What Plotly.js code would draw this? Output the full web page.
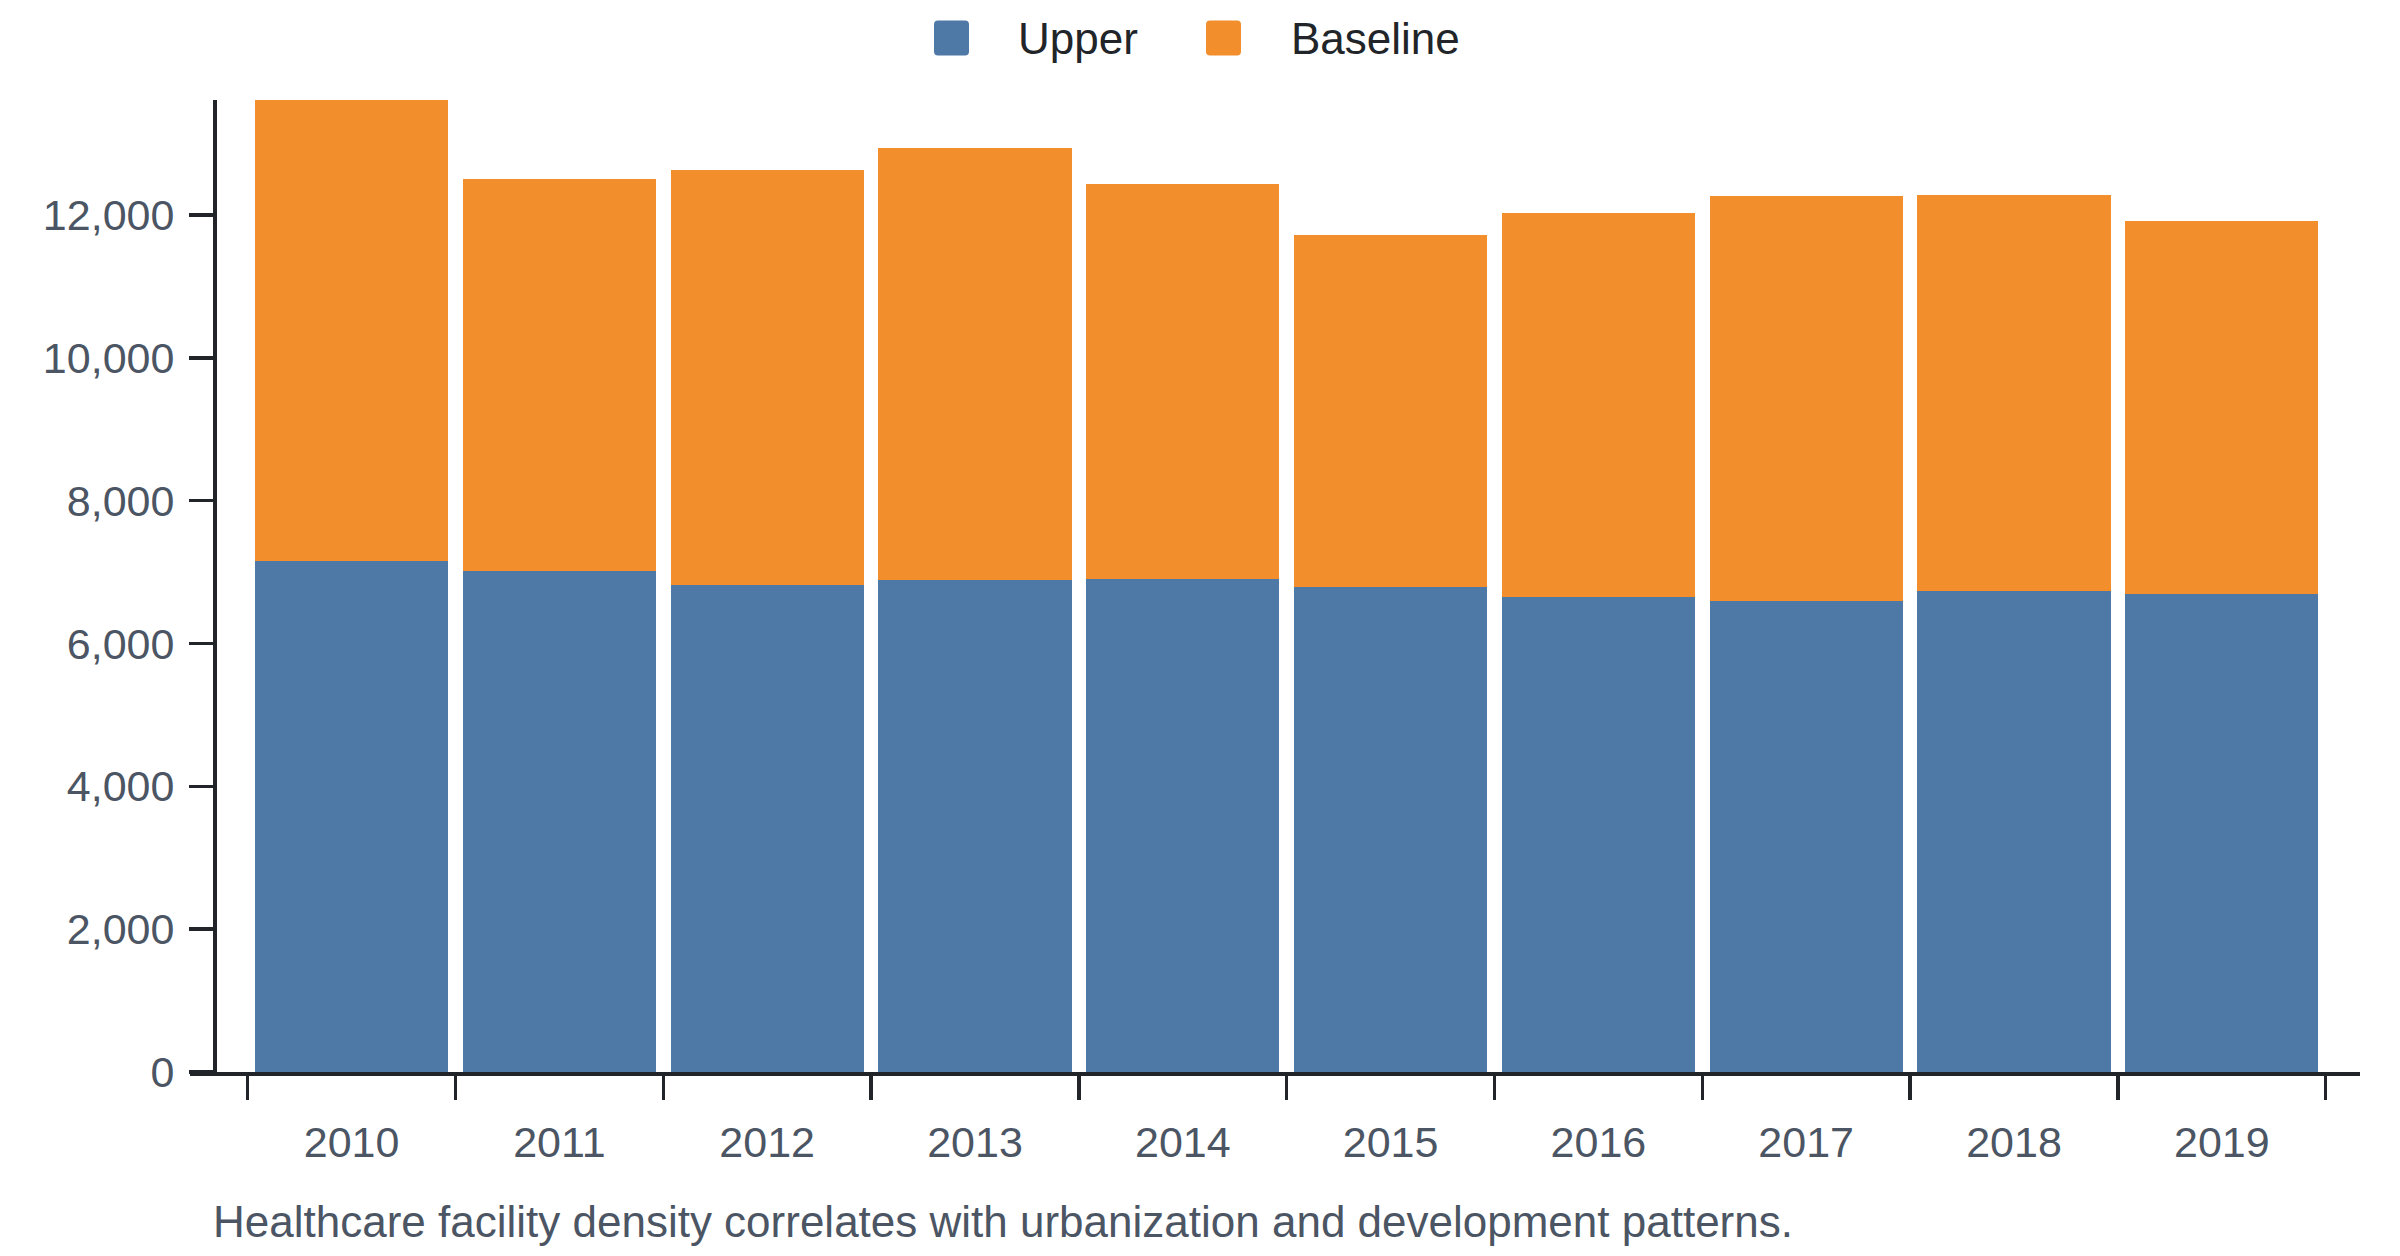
<!DOCTYPE html>
<html>
<head>
<meta charset="utf-8">
<script src="https://cdn.plot.ly/plotly-3.0.1.min.js"></script>
<style>
  html, body { margin: 0; padding: 0; background: #ffffff; }
  #chart { width: 2400px; height: 1256px; }
</style>
</head>
<body>
<div id="chart"></div>
<script>
// ---- data ----
const years = ['2010', '2011', '2012', '2013', '2014', '2015', '2016', '2017', '2018', '2019'];
const upper = [7160, 7010, 6815, 6890, 6910, 6785, 6655, 6590, 6735, 6700];
const baseline = [6450, 5500, 5810, 6045, 5530, 4930, 5370, 5675, 5540, 5220];
const seriesNames = ['Upper', 'Baseline'];
const seriesColors = ['#4e79a7', '#f28e2b'];
const caption = 'Healthcare facility density correlates with urbanization and development patterns.';

// ---- layout geometry (pixels) ----
const W = 2400, H = 1256;
const M = { l: 190, r: 40, t: 100, b: 184 };
const plotW = W - M.l - M.r, plotH = H - M.t - M.b;
const px2x = p => (p - M.l) / plotW;
const py2y = p => (H - M.b - p) / plotH;

const totals = upper.map((u, i) => u + baseline[i]);
const yMax = Math.max.apply(null, totals);

const fontFam = 'Liberation Sans, Arial, Helvetica, sans-serif';
const axisColor = '#212529';
const labelColor = '#4b5563';

const traces = [upper, baseline].map((vals, k) => ({
  type: 'bar',
  name: seriesNames[k],
  x: years,
  y: vals,
  marker: { color: seriesColors[k], line: { width: 0 } },
  showlegend: false,
  hoverinfo: 'x+y+name'
}));

// manual legend (large rounded square swatches)
const legendSquareX = [934, 1206];
const legendTextX = [1016, 1289];
const legendCY = 38, sq = 35, rad = 4;
function roundedSquare(x0p, y0p, s, r) {
  const X = p => px2x(p), Y = p => py2y(p);
  const x1p = x0p + s, y1p = y0p + s;
  return 'M' + X(x0p + r) + ',' + Y(y0p) +
    ' L' + X(x1p - r) + ',' + Y(y0p) +
    ' Q' + X(x1p) + ',' + Y(y0p) + ' ' + X(x1p) + ',' + Y(y0p + r) +
    ' L' + X(x1p) + ',' + Y(y1p - r) +
    ' Q' + X(x1p) + ',' + Y(y1p) + ' ' + X(x1p - r) + ',' + Y(y1p) +
    ' L' + X(x0p + r) + ',' + Y(y1p) +
    ' Q' + X(x0p) + ',' + Y(y1p) + ' ' + X(x0p) + ',' + Y(y1p - r) +
    ' L' + X(x0p) + ',' + Y(y0p + r) +
    ' Q' + X(x0p) + ',' + Y(y0p) + ' ' + X(x0p + r) + ',' + Y(y0p) + ' Z';
}
const shapes = seriesNames.map((n, k) => ({
  type: 'path', xref: 'paper', yref: 'paper',
  path: roundedSquare(legendSquareX[k], legendCY - sq / 2, sq, rad),
  fillcolor: seriesColors[k], line: { width: 0 }
}));
const annotations = seriesNames.map((n, k) => ({
  text: n, xref: 'paper', yref: 'paper',
  x: px2x(legendTextX[k]), y: py2y(legendCY), xanchor: 'left', yanchor: 'middle',
  showarrow: false, font: { family: fontFam, size: 44, color: '#212529' }
}));
annotations.push({
  text: caption, xref: 'paper', yref: 'paper',
  x: px2x(211), y: py2y(1221), xanchor: 'left', yanchor: 'middle',
  showarrow: false, font: { family: fontFam, size: 44, color: labelColor }
});

const band = 207.8, firstBoundary = 247.7;
const c0 = firstBoundary + band / 2;

const layout = {
  width: W, height: H,
  margin: { l: M.l, r: M.r, t: M.t, b: M.b, pad: 0 },
  paper_bgcolor: '#ffffff', plot_bgcolor: '#ffffff',
  barmode: 'stack',
  bargap: 0.071,
  showlegend: false,
  font: { family: fontFam, size: 43, color: labelColor },
  xaxis: {
    type: 'category',
    range: [(M.l - c0) / band, (W - M.r - c0) / band],
    showline: true, linecolor: axisColor, linewidth: 3.5,
    ticks: 'outside', tickson: 'boundaries', ticklen: 24, tickwidth: 3.5, tickcolor: axisColor,
    ticklabelstandoff: 30,
    tickfont: { family: fontFam, size: 43, color: labelColor },
    showgrid: false, zeroline: false, fixedrange: true
  },
  yaxis: {
    anchor: 'free', position: px2x(214),
    range: [0, yMax],
    showline: true, linecolor: axisColor, linewidth: 3.5,
    ticks: 'outside', ticklen: 24, tickwidth: 3.5, tickcolor: axisColor,
    ticklabelstandoff: 6,
    dtick: 2000, tick0: 0, tickformat: ',d',
    tickfont: { family: fontFam, size: 43, color: labelColor },
    showgrid: false, zeroline: false, fixedrange: true
  },
  shapes: shapes,
  annotations: annotations
};

Plotly.newPlot('chart', traces, layout, { displayModeBar: false, staticPlot: true });
</script>
</body>
</html>
